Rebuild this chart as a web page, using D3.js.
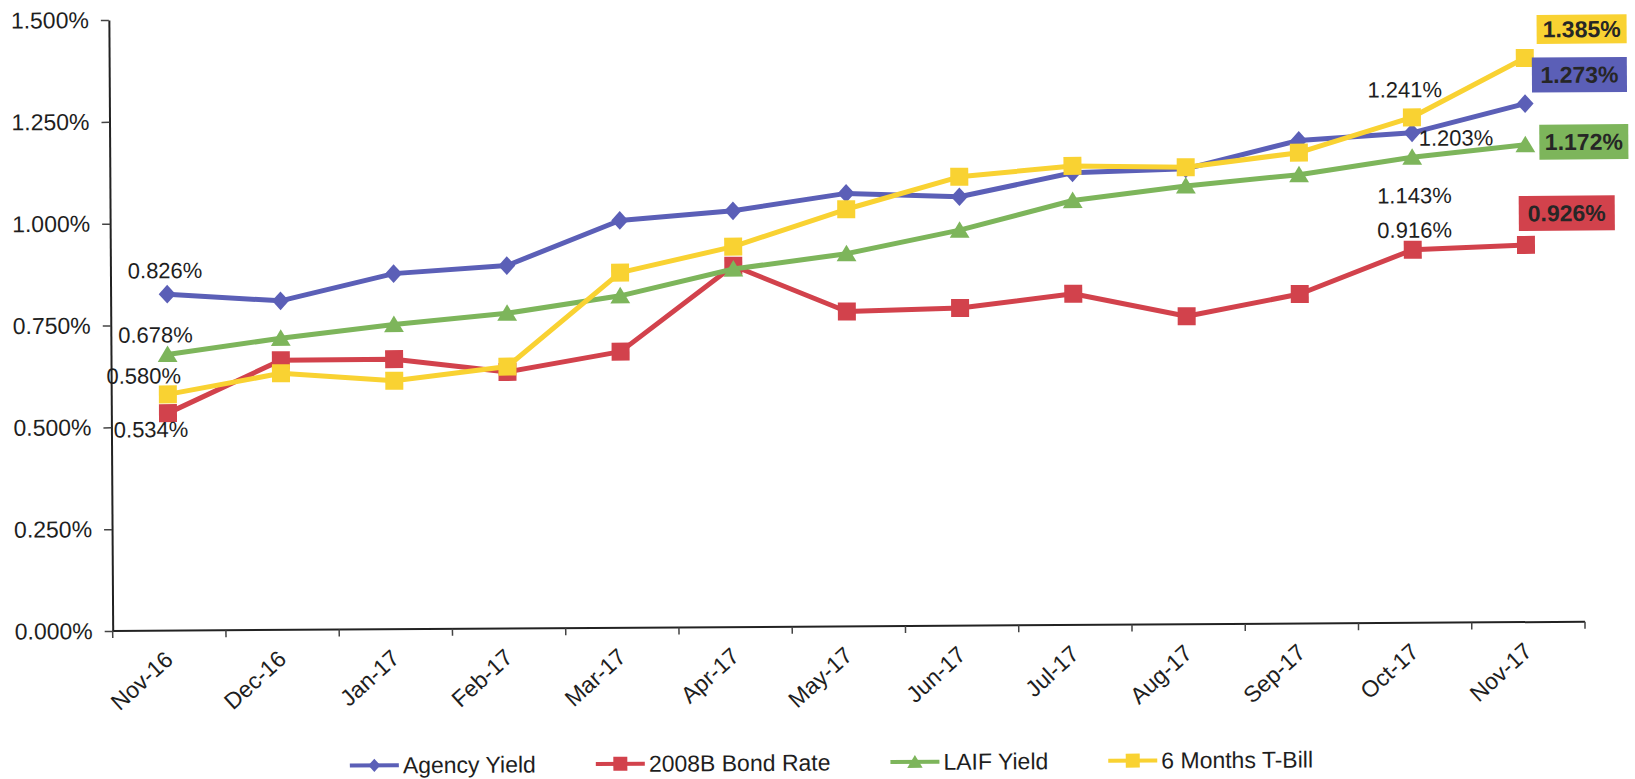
<!DOCTYPE html>
<html>
<head>
<meta charset="utf-8">
<script src="https://cdn.jsdelivr.net/npm/d3@7"></script>
<style>
  html, body { margin: 0; padding: 0; background: #fff; }
  svg { display: block; font-family: "Liberation Sans", Arial, sans-serif; }
</style>
</head>
<body>
<svg id="chart" width="1635" height="779"></svg>
<script>
// Monthly yields, percent
const months = ["Nov-16", "Dec-16", "Jan-17", "Feb-17", "Mar-17", "Apr-17", "May-17",
                "Jun-17", "Jul-17", "Aug-17", "Sep-17", "Oct-17", "Nov-17"];
const agencyYield   = [0.826, 0.808, 0.873, 0.891, 1.000, 1.022, 1.063, 1.053, 1.110, 1.118, 1.186, 1.203, 1.273];
const bondRate2008B = [0.534, 0.662, 0.663, 0.630, 0.678, 0.887, 0.773, 0.780, 0.813, 0.756, 0.809, 0.916, 0.926];
const laifYield     = [0.678, 0.716, 0.748, 0.774, 0.815, 0.879, 0.915, 0.971, 1.042, 1.076, 1.102, 1.143, 1.172];
const tBill6M       = [0.580, 0.630, 0.610, 0.643, 0.872, 0.934, 1.024, 1.102, 1.127, 1.122, 1.156, 1.241, 1.385];
const yTicks = [0, 0.25, 0.5, 0.75, 1.0, 1.25, 1.5];

const series = [
  { name: "Agency Yield",     values: agencyYield,   color: "#5b5fb7", marker: "diamond"  },
  { name: "2008B Bond Rate",  values: bondRate2008B, color: "#d2424c", marker: "square"   },
  { name: "LAIF Yield",       values: laifYield,     color: "#7db55b", marker: "triangle" },
  { name: "6 Months T-Bill",  values: tBill6M,       color: "#f9d232", marker: "square"   }
];

// Plain value labels: series index, month index, offset from the point
const pointLabels = [
  { s: 0, i: 0,  dx: -2,  dy: -16 },
  { s: 2, i: 0,  dx: -12, dy: -12 },
  { s: 3, i: 0,  dx: -24, dy: -11 },
  { s: 1, i: 0,  dx: -17, dy: 24 },
  { s: 3, i: 11, dx: -7,  dy: -20 },
  { s: 0, i: 11, dx: 44,  dy: 13 },
  { s: 2, i: 11, dx: 2,   dy: 46 },
  { s: 1, i: 11, dx: 2,   dy: -12 }
];
// Boxed labels for the latest month
const boxLabels = [
  { s: 3, i: 12, dx: 12, dy: -43, w: 90, h: 29 },
  { s: 0, i: 12, dx: 7,  dy: -46, w: 95, h: 35 },
  { s: 2, i: 12, dx: 14, dy: -20, w: 89, h: 35 },
  { s: 1, i: 12, dx: -7, dy: -49, w: 96, h: 35 }
];

const pct = v => v.toFixed(3) + "%";

const svg = d3.select("#chart");
const plotLeft = 112.7, plotRight = 1585, plotTop = 20, plotBottom = 631;

// whole sheet sits very slightly tilted
const root = svg.append("g").attr("transform", `rotate(-0.36, ${plotLeft}, ${plotBottom})`);

const x = d3.scaleBand().domain(months).range([plotLeft, plotRight]);
const y = d3.scaleLinear().domain([0, 1.5]).range([plotBottom, plotTop]);
const cx = m => x(m) + x.bandwidth() / 2;

// Y axis
const yAxis = root.append("g")
  .attr("transform", `translate(${plotLeft},0)`)
  .call(d3.axisLeft(y).tickValues(yTicks).tickFormat(pct)
        .tickSize(8).tickSizeOuter(0).tickPadding(12));
yAxis.select(".domain").attr("stroke", "#222").attr("stroke-width", 2);
yAxis.selectAll(".tick line").attr("stroke", "#444").attr("stroke-width", 1.5);
yAxis.selectAll(".tick text").attr("font-size", 23).attr("fill", "#1e1e1e")
  .attr("font-family", "Liberation Sans, Arial, sans-serif");

// X axis: line, ticks at category boundaries, rotated labels
const xAxis = root.append("g");
xAxis.append("line")
  .attr("x1", plotLeft).attr("x2", plotRight).attr("y1", plotBottom).attr("y2", plotBottom)
  .attr("stroke", "#222").attr("stroke-width", 2);
xAxis.selectAll("line.tk")
  .data(months.map(m => x(m)).concat([x.range()[1]]))
  .join("line").attr("class", "tk")
  .attr("x1", d => d).attr("x2", d => d)
  .attr("y1", plotBottom).attr("y2", plotBottom + 7)
  .attr("stroke", "#444").attr("stroke-width", 1.5);
xAxis.selectAll("text")
  .data(months)
  .join("text")
  .attr("transform", d => `translate(${cx(d) + 5},${plotBottom + 31}) rotate(-42)`)
  .attr("text-anchor", "end")
  .attr("font-size", 23)
  .attr("fill", "#1e1e1e")
  .text(d => d);

// Marker shapes
function drawMarker(g, type, size, color) {
  if (type === "diamond") {
    g.append("path").attr("d", `M0,${-size*0.55}L${size*0.5},0L0,${size*0.55}L${-size*0.5},0Z`).attr("fill", color);
  } else if (type === "square") {
    g.append("rect").attr("x", -size/2).attr("y", -size/2).attr("width", size).attr("height", size).attr("fill", color);
  } else {
    g.append("path").attr("d", `M0,${-size*0.5}L${size*0.55},${size*0.42}L${-size*0.55},${size*0.42}Z`).attr("fill", color);
  }
}

// Lines and markers
const line = d3.line().x((d, i) => cx(months[i])).y(d => y(d));
series.forEach(s => {
  const g = root.append("g");
  g.append("path").datum(s.values)
    .attr("d", line).attr("fill", "none")
    .attr("stroke", s.color).attr("stroke-width", 5)
    .attr("stroke-linejoin", "round");
  s.values.forEach((v, i) => {
    const mg = g.append("g").attr("transform", `translate(${cx(months[i])},${y(v)})`);
    drawMarker(mg, s.marker, s.marker === "diamond" ? 17 : 18, s.color);
  });
});

// Value labels
pointLabels.forEach(l => {
  const v = series[l.s].values[l.i];
  root.append("text")
    .attr("x", cx(months[l.i]) + l.dx)
    .attr("y", y(v) + l.dy)
    .attr("text-anchor", "middle")
    .attr("font-size", 22)
    .attr("fill", "#1e1e1e")
    .text(pct(v));
});

boxLabels.forEach(b => {
  const s = series[b.s];
  const v = s.values[b.i];
  const bx = cx(months[b.i]) + b.dx, by = y(v) + b.dy;
  root.append("rect")
    .attr("x", bx).attr("y", by).attr("width", b.w).attr("height", b.h)
    .attr("fill", s.color);
  root.append("text")
    .attr("x", bx + b.w / 2).attr("y", by + b.h / 2 + 8)
    .attr("text-anchor", "middle")
    .attr("font-size", 23).attr("font-weight", "bold")
    .attr("fill", "#262626")
    .text(pct(v));
});

// Legend
const legend = root.append("g");
let lx = 349;
const ly = 767;
series.forEach(s => {
  const item = legend.append("g");
  item.append("line")
    .attr("x1", lx).attr("x2", lx + 49).attr("y1", ly).attr("y2", ly)
    .attr("stroke", s.color).attr("stroke-width", 4);
  const mg = item.append("g").attr("transform", `translate(${lx + 24.5},${ly})`);
  drawMarker(mg, s.marker, s.marker === "diamond" ? 12 : 14, s.color);
  const t = item.append("text")
    .attr("x", lx + 53).attr("y", ly + 8)
    .attr("font-size", 23).attr("fill", "#1e1e1e")
    .text(s.name);
  lx += 53 + t.node().getComputedTextLength() + 60;
});
</script>
</body>
</html>
